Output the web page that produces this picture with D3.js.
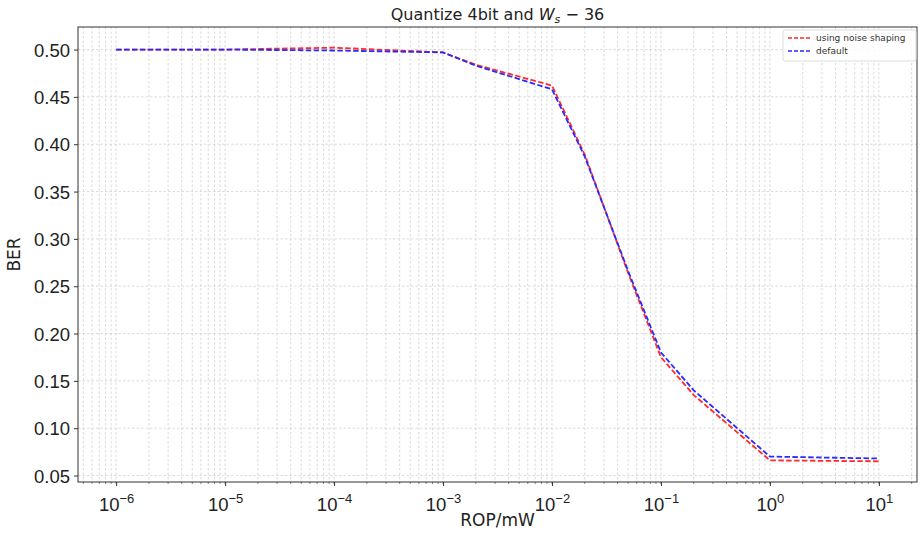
<!DOCTYPE html>
<html lang="en">
<head>
<meta charset="UTF-8">
<title>Quantize 4bit BER</title>
<style>
    body { margin: 0; background: #fff; }
    svg { font-family: "DejaVu Sans", sans-serif; }
    .grid line { stroke: #d2d2d2; stroke-width: 0.8; stroke-dasharray: 2.5 2; }
    .axis path, .axis line { stroke: #333; }
    .axis text { fill: #222; }
</style>
</head>
<body>
<div id="chart"></div>
<script src="https://d3js.org/d3.v7.min.js"></script>
<script>

    // data
    var rop = [1e-6, 1e-5, 1e-4, 1e-3, 2e-3, 1e-2, 2e-2, 5e-2, 1e-1, 2e-1, 1, 10];
    var berNoiseShaping = [0.500, 0.500, 0.502, 0.497, 0.484, 0.462, 0.389, 0.264, 0.175, 0.135, 0.066, 0.065];
    var berDefault      = [0.500, 0.500, 0.499, 0.497, 0.483, 0.458, 0.387, 0.266, 0.180, 0.140, 0.070, 0.068];
    var yTicks = [0.05, 0.10, 0.15, 0.20, 0.25, 0.30, 0.35, 0.40, 0.45, 0.50];
    var xExponents = [-6, -5, -4, -3, -2, -1, 0, 1];
    var legendLabels = ["using noise shaping", "default"];

    var width = 920,
        height = 533;
    var margin = {top: 27, right: 3, bottom: 51, left: 78};
    var iw = width - margin.left - margin.right,
        ih = height - margin.top - margin.bottom;

    var svg = d3.select("#chart").append("svg")
        .attr("width", width)
        .attr("height", height);

    var g = svg.append("g")
        .attr("transform", "translate(" + margin.left + "," + margin.top + ")");

    // matplotlib style 5% margins
    var lx0 = Math.log10(rop[0]), lx1 = Math.log10(rop[rop.length - 1]);
    var padX = (lx1 - lx0) * 0.05;
    var x = d3.scaleLog()
        .domain([Math.pow(10, lx0 - padX), Math.pow(10, lx1 + padX)])
        .range([0, iw]);

    var all = berNoiseShaping.concat(berDefault);
    var ymin = d3.min(all), ymax = d3.max(all);
    var padY = (ymax - ymin) * 0.05;
    var y = d3.scaleLinear()
        .domain([ymin - padY, ymax + padY])
        .range([ih, 0]);

    // minor + major x positions
    var xMinor = [];
    for (var e = -7; e <= 1; e++) {
        for (var m = 1; m < 10; m++) {
            var v = m * Math.pow(10, e);
            if (v >= x.domain()[0] && v <= x.domain()[1]) xMinor.push(v);
        }
    }

    var grid = g.append("g").attr("class", "grid");
    grid.selectAll(".vx")
        .data(xMinor)
        .enter().append("line")
        .attr("x1", function (d) { return x(d); })
        .attr("x2", function (d) { return x(d); })
        .attr("y1", 0)
        .attr("y2", ih);
    grid.selectAll(".hy")
        .data(yTicks)
        .enter().append("line")
        .attr("x1", 0)
        .attr("x2", iw)
        .attr("y1", function (d) { return y(d); })
        .attr("y2", function (d) { return y(d); });

    // lines
    var line = d3.line()
        .x(function (d) { return x(d[0]); })
        .y(function (d) { return y(d[1]); });

    var series = [
        {values: berNoiseShaping, color: "#ff2a2a"},
        {values: berDefault, color: "#2a2aff"}
    ];

    series.forEach(function (s) {
        g.append("path")
            .datum(rop.map(function (r, i) { return [r, s.values[i]]; }))
            .attr("fill", "none")
            .attr("stroke", s.color)
            .attr("stroke-width", 1.8)
            .attr("stroke-dasharray", "5.5 2.4")
            .attr("d", line);
    });

    // axes
    var xAxis = g.append("g")
        .attr("class", "axis")
        .attr("transform", "translate(0," + ih + ")")
        .call(d3.axisBottom(x)
            .tickValues(xExponents.map(function (e) { return Math.pow(10, e); }))
            .tickSize(4)
            .tickPadding(5)
            .tickFormat(""));
    xAxis.select(".domain").remove();

    xAxis.selectAll(".tick").append("text")
        .attr("y", 29)
        .attr("font-size", 18.5)
        .attr("text-anchor", "middle")
        .attr("fill", "#222")
        .each(function (d) {
            var t = d3.select(this);
            t.append("tspan").text("10");
            t.append("tspan")
                .attr("dy", -8)
                .attr("font-size", 13)
                .text(String(Math.round(Math.log10(d))).replace("-", "\u2212"));
        });

    // minor ticks
    g.append("g")
        .attr("class", "axis")
        .selectAll("line")
        .data(xMinor)
        .enter().append("line")
        .attr("x1", function (d) { return x(d); })
        .attr("x2", function (d) { return x(d); })
        .attr("y1", ih)
        .attr("y2", ih + 2)
        .attr("stroke", "#333")
        .attr("stroke-width", 0.6);

    var yAxis = g.append("g")
        .attr("class", "axis")
        .call(d3.axisLeft(y)
            .tickValues(yTicks)
            .tickSize(4)
            .tickPadding(4)
            .tickFormat(d3.format(".2f")));
    yAxis.select(".domain").remove();
    yAxis.selectAll("text").attr("font-size", 18.5).attr("dy", "0.36em");

    // frame
    g.append("rect")
        .attr("width", iw)
        .attr("height", ih)
        .attr("fill", "none")
        .attr("stroke", "#333")
        .attr("stroke-width", 1);

    // title and labels
    var title = svg.append("text")
        .attr("x", margin.left + iw / 2)
        .attr("y", 20)
        .attr("text-anchor", "middle")
        .attr("font-size", 16)
        .attr("fill", "#222");
    title.append("tspan").text("Quantize 4bit and ");
    title.append("tspan").attr("font-style", "italic").text("W");
    title.append("tspan").attr("font-style", "italic").attr("font-size", 11).attr("dy", 3).text("s");
    title.append("tspan").attr("dy", -3).text(" \u2212 36");

    svg.append("text")
        .attr("x", margin.left + iw / 2)
        .attr("y", 526)
        .attr("text-anchor", "middle")
        .attr("font-size", 17)
        .attr("fill", "#222")
        .text("ROP/mW");

    svg.append("text")
        .attr("transform", "translate(20," + (margin.top + ih / 2) + ") rotate(-90)")
        .attr("text-anchor", "middle")
        .attr("font-size", 17)
        .attr("fill", "#222")
        .text("BER");

    // legend
    var lg = svg.append("g").attr("transform", "translate(783,30)");
    lg.append("rect")
        .attr("width", 133)
        .attr("height", 31)
        .attr("rx", 2)
        .attr("fill", "#fff")
        .attr("fill-opacity", 0.85)
        .attr("stroke", "#ddd");
    legendLabels.forEach(function (lab, i) {
        var yy = 8 + i * 13;
        lg.append("line")
            .attr("x1", 5).attr("x2", 27)
            .attr("y1", yy).attr("y2", yy)
            .attr("stroke", series[i].color)
            .attr("stroke-width", 1.3)
            .attr("stroke-dasharray", "4 2");
        lg.append("text")
            .attr("x", 33)
            .attr("y", yy + 3)
            .attr("font-size", 9)
            .attr("fill", "#333")
            .text(lab);
    });

</script>
</body>
</html>
